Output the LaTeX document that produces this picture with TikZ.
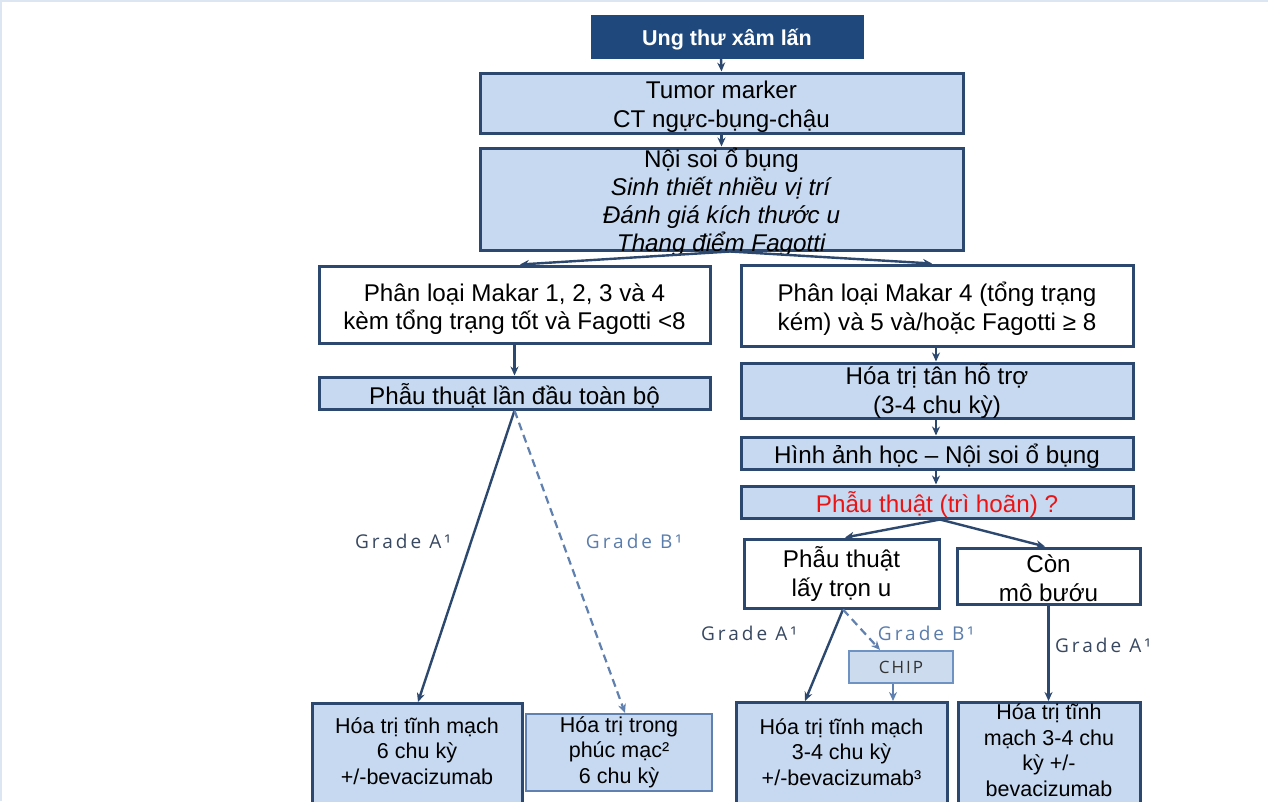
\documentclass[tikz,border=0pt]{standalone}
\usepackage{fontspec}
\setmainfont{Liberation Sans}
\newfontfamily\gradefont[LetterSpace=16]{Open Sans}
\newfontfamily\chipfont[LetterSpace=12]{Open Sans}
\usetikzlibrary{arrows.meta}
\definecolor{navy}{RGB}{31,73,125}
\definecolor{boxfill}{RGB}{198,217,241}
\definecolor{boxline}{RGB}{44,72,110}
\definecolor{arrowcol}{RGB}{44,72,110}
\definecolor{dashcol}{RGB}{96,128,175}
\definecolor{gradeA}{RGB}{55,72,96}
\definecolor{gradeB}{RGB}{90,125,172}
\definecolor{chipline}{RGB}{110,146,194}
\definecolor{chipfill}{RGB}{205,219,238}
\definecolor{framecol}{RGB}{220,230,242}
\definecolor{redtxt}{RGB}{235,20,20}
\tikzset{
  box/.style={draw=boxline, line width=3pt, fill=boxfill, inner sep=0pt},
  wbox/.style={box, fill=white},
  txt/.style={inner sep=0pt, align=center, font=\fontsize{24.2}{28.5}\selectfont},
  btxt/.style={inner sep=0pt, align=center, font=\fontsize{21.5}{25.5}\selectfont},
  arr/.style={draw=arrowcol, line width=2.4pt, -{Stealth[length=9pt,width=8pt]}},
  darr/.style={arr, draw=dashcol, line width=2.2pt, dash pattern=on 8pt off 5pt},
  grade/.style={font=\gradefont\fontsize{19}{22}\selectfont, text=gradeA, inner sep=0pt},
  gradeb/.style={grade, text=gradeB},
}
\begin{document}
\begin{tikzpicture}[x=1pt,y=-1pt]
\useasboundingbox (0,0) rectangle (1268,801);
\fill[white] (0,0) rectangle (1268,801);
\draw[framecol, line width=3pt] (0,801) -- (0,0) -- (1268,0);

% boxes
\node[box, fill=navy, draw=navy, minimum width=270pt, minimum height=41pt] (top) at (727,36.5) {};
\node[inner sep=0pt, font=\bfseries\fontsize{21.5}{25}\selectfont, text=white] (topt) at (727,40) {Ung thư xâm lấn};
\node[box, minimum width=483pt, minimum height=60pt] (tumor) at (721.5,103) {};
\node[txt] (tumort) at (721.5,106.5) {Tumor marker\\CT ngực-bụng-chậu};
\node[box, minimum width=483pt, minimum height=102pt] (noisoi) at (721.5,199) {};
\node[txt, font=\fontsize{24.2}{28}\selectfont] (noisoit) at (721.5,202)
  {Nội soi ổ bụng\\\textit{Sinh thiết nhiều vị trí}\\\textit{Đánh giá kích thước u}\\\textit{Thang điểm Fagotti}};
\node[wbox, minimum width=391pt, minimum height=77pt] (lmakar) at (514.5,304.5) {};
\node[txt] (lmakart) at (514.5,309) {Phân loại Makar 1, 2, 3 và 4\\kèm tổng trạng tốt và Fagotti <8};
\node[wbox, minimum width=392pt, minimum height=81pt] (rmakar) at (937,305.5) {};
\node[txt] (rmakart) at (937,308.5) {Phân loại Makar 4 (tổng trạng\\kém) và 5 và/hoặc Fagotti ≥ 8};
\node[box, minimum width=391pt, minimum height=32pt] (phau1) at (514.5,393) {};
\node[txt] (phau1t) at (514.5,395.5) {Phẫu thuật lần đầu toàn bộ};
\node[box, minimum width=392pt, minimum height=55pt] (hoatan) at (937,390.5) {};
\node[txt] (hoatant) at (937,391) {Hóa trị tân hỗ trợ\\(3-4 chu kỳ)};
\node[box, minimum width=392pt, minimum height=32pt] (hinhanh) at (937,453) {};
\node[txt] (hinhanht) at (937,456) {Hình ảnh học -- Nội soi ổ bụng};
\node[box, minimum width=392pt, minimum height=32pt] (phautri) at (937,502) {};
\node[txt, text=redtxt] (phautrit) at (937,505) {Phẫu thuật (trì hoãn) ?};
\node[wbox, minimum width=195pt, minimum height=69pt] (layu) at (841.5,573.5) {};
\node[txt] (layut) at (841.5,574) {Phẫu thuật\\lấy trọn u};
\node[wbox, minimum width=183pt, minimum height=56pt] (con) at (1048.5,576) {};
\node[txt] (cont) at (1048.5,578) {Còn\\mô bướu};
\node[box, draw=chipline, line width=2.2pt, fill=chipfill, minimum width=104pt, minimum height=32pt] (chip) at (901,667) {};
\node[inner sep=0pt, font=\chipfont\fontsize{17}{20}\selectfont, text=black!80] (chipt) at (901,667) {CHIP};

% bottom boxes
\node[box, minimum width=210pt, minimum height=120pt, anchor=north] (b1) at (417,702) {};
\node[btxt] (b1t) at (417,751) {Hóa trị tĩnh mạch\\6 chu kỳ\\+/-bevacizumab};
\node[box, draw=dashcol, line width=2.2pt, minimum width=186pt, minimum height=77pt] (b2) at (619,752.5) {};
\node[btxt] (b2t) at (619,752) {Hóa trị trong\\phúc mạc²\\6 chu kỳ};
\node[box, minimum width=211pt, minimum height=120pt, anchor=north] (b3) at (841.5,701) {};
\node[btxt] (b3t) at (841.5,752) {Hóa trị tĩnh mạch\\3-4 chu kỳ\\+/-bevacizumab³};
\node[box, minimum width=182pt, minimum height=120pt, anchor=north] (b4) at (1049,701) {};
\node[btxt] (b4t) at (1049,750) {Hóa trị tĩnh\\mạch 3-4 chu\\kỳ +/-\\bevacizumab};

% connectors
\draw[arr] ([xshift=-6pt]top.south) -- (tumor.north);
\draw[arr] (tumor.south) -- (noisoi.north);
\draw[arr] ([xshift=8.5pt]noisoi.south) -- ([xshift=5.5pt]lmakar.north);
\draw[arr] ([xshift=8.5pt]noisoi.south) -- ([xshift=-5pt]rmakar.north);
\draw[arr] (lmakar.south) -- (phau1.north);
\draw[arr] ([xshift=-1pt]rmakar.south) -- ([xshift=-1pt]hoatan.north);
\draw[arr] ([xshift=-1pt]hoatan.south) -- ([xshift=-1pt]hinhanh.north);
\draw[arr] ([xshift=-1pt]hinhanh.south) -- ([xshift=-1pt]phautri.north);
\draw[arr] ([xshift=3pt]phautri.south) -- ([xshift=3.5pt]layu.north);
\draw[arr] ([xshift=3pt]phautri.south) -- ([xshift=-3.5pt]con.north);
\draw[arr] (phau1.south) -- ([xshift=1pt]b1.north);
\draw[darr] (phau1.south) -- ([xshift=6pt]b2.north);
\draw[arr] ([xshift=1.5pt]layu.south) -- ([xshift=-36.5pt]b3.north);
\draw[darr] ([xshift=1.5pt]layu.south) -- ([xshift=-21pt]chip.north);
\draw[arr, draw=dashcol, line width=1.8pt] ([xshift=-8pt]chip.south) -- ([xshift=-8pt]chip.south |- b3.north);
\draw[arr] (con.south) -- (con.south |- b4.north);

% labels
\node[grade] (ga1) at (403,541) {Grade A¹};
\node[gradeb] (gb1) at (634,541) {Grade B¹};
\node[grade] (ga2) at (749,633) {Grade A¹};
\node[gradeb] (gb2) at (926,633) {Grade B¹};
\node[grade] (ga3) at (1103,645) {Grade A¹};
\end{tikzpicture}
\end{document}
